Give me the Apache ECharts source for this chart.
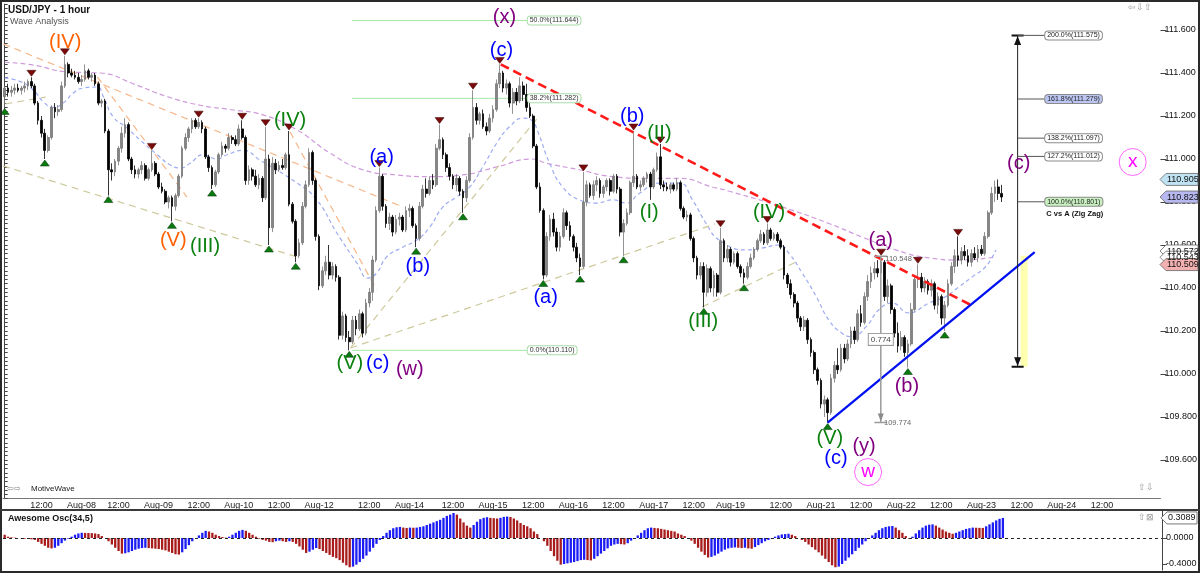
<!DOCTYPE html>
<html>
<head>
<meta charset="utf-8">
<title>USD/JPY - 1 hour</title>
<script src="https://cdn.jsdelivr.net/npm/echarts@6.0.0/dist/echarts.min.js"></script>
<style>
html,body{margin:0;padding:0;background:#ffffff;}
#chart{width:1200px;height:573px;}
</style>
</head>
<body>
<div id="chart"></div>
<script>
// ================= DATA =================
const slotCount = 346; // hourly slots on the time axis (incl. future space)
const xTicks = [[11,'12:00'],[23,'Aug-08'],[34,'12:00'],[46,'Aug-09'],[58,'12:00'],[70,'Aug-10'],[82,'12:00'],[94,'Aug-12'],
  [109,'12:00'],[121,'Aug-14'],[134,'12:00'],[146,'Aug-15'],[158,'12:00'],[170,'Aug-16'],[182,'12:00'],[194,'Aug-17'],[206,'12:00'],
  [217,'Aug-19'],[232,'12:00'],[244,'Aug-21'],[256,'12:00'],[268,'Aug-22'],[280,'12:00'],[292,'Aug-23'],[304,'12:00'],[316,'Aug-24'],[328,'12:00'],[339,'']];

// [open, high, low, close] per hour
const candles = [
[111.29,111.34,111.24,111.33],[111.33,111.35,111.29,111.31],[111.31,111.34,111.29,111.32],[111.32,111.35,111.30,111.33],[111.33,111.35,111.31,111.32],
[111.32,111.34,111.30,111.33],[111.33,111.36,111.31,111.34],[111.34,111.37,111.32,111.36],[111.36,111.38,111.33,111.34],[111.34,111.35,111.25,111.26],
[111.26,111.27,111.16,111.18],[111.18,111.20,111.10,111.12],[111.12,111.14,111.00,111.04],[111.04,111.11,111.03,111.10],[111.10,111.25,111.09,111.24],
[111.24,111.26,111.19,111.22],[111.22,111.25,111.20,111.23],[111.23,111.36,111.22,111.34],[111.34,111.48,111.33,111.44],[111.44,111.45,111.38,111.40],
[111.40,111.42,111.38,111.39],[111.39,111.41,111.37,111.38],[111.38,111.40,111.35,111.36],[111.36,111.39,111.34,111.37],[111.37,111.44,111.36,111.41],
[111.41,111.42,111.37,111.38],[111.38,111.40,111.36,111.39],[111.39,111.40,111.34,111.35],[111.35,111.36,111.25,111.26],[111.26,111.28,111.24,111.27],
[111.27,111.28,111.12,111.13],[111.13,111.14,110.83,110.95],[110.95,110.98,110.90,110.94],[110.94,111.00,110.92,110.99],[110.99,111.06,110.97,111.05],
[111.05,111.15,111.03,111.12],[111.12,111.19,111.10,111.16],[111.16,111.17,110.99,111.00],[111.00,111.01,110.93,110.95],[110.95,110.97,110.91,110.93],
[110.93,110.96,110.91,110.95],[110.95,110.99,110.93,110.97],[110.97,110.98,110.90,110.91],[110.91,110.96,110.90,110.95],[110.95,111.04,110.94,110.98],
[110.98,110.99,110.92,110.93],[110.93,110.94,110.86,110.87],[110.87,110.89,110.84,110.85],[110.85,110.86,110.79,110.80],[110.80,110.83,110.77,110.82],
[110.82,110.83,110.71,110.78],[110.78,110.84,110.76,110.83],[110.83,110.93,110.82,110.92],[110.92,111.06,110.91,111.05],[111.05,111.12,111.04,111.10],
[111.10,111.15,111.08,111.14],[111.14,111.19,111.12,111.18],[111.18,111.19,111.14,111.15],[111.15,111.19,111.14,111.17],[111.17,111.18,111.12,111.14],
[111.14,111.15,111.00,111.01],[111.01,111.02,110.94,110.96],[110.96,110.97,110.86,110.88],[110.88,110.95,110.87,110.94],[110.94,111.03,110.93,111.02],
[111.02,111.08,111.01,111.06],[111.06,111.07,111.03,111.05],[111.05,111.12,111.04,111.10],[111.10,111.11,111.07,111.09],[111.09,111.11,111.06,111.07],
[111.07,111.16,111.06,111.14],[111.14,111.18,111.09,111.10],[111.10,111.11,110.88,110.90],[110.90,110.97,110.88,110.95],[110.95,110.96,110.90,110.92],
[110.92,110.95,110.87,110.88],[110.88,110.93,110.86,110.91],[110.91,110.92,110.80,110.82],[110.82,111.15,110.81,111.00],[111.00,111.02,110.60,110.68],
[110.68,111.01,110.66,110.98],[110.98,111.00,110.93,110.95],[110.95,110.99,110.94,110.97],[110.97,111.00,110.95,110.96],[110.96,111.03,110.95,111.02],
[111.02,111.13,110.78,110.79],[110.79,110.80,110.70,110.71],[110.71,110.72,110.52,110.55],[110.55,110.63,110.54,110.61],[110.61,110.80,110.60,110.78],
[110.78,110.90,110.77,110.88],[110.88,111.05,110.87,111.03],[111.03,111.04,110.88,110.90],[110.90,110.91,110.62,110.64],[110.64,110.65,110.39,110.41],
[110.41,110.50,110.40,110.48],[110.48,110.55,110.46,110.52],[110.52,110.60,110.44,110.46],[110.46,110.52,110.44,110.50],[110.50,110.51,110.43,110.45],
[110.45,110.46,110.16,110.18],[110.18,110.29,110.16,110.27],[110.27,110.28,110.15,110.17],[110.17,110.20,110.11,110.15],[110.15,110.27,110.14,110.25],
[110.25,110.27,110.18,110.21],[110.21,110.30,110.20,110.28],[110.28,110.29,110.17,110.19],[110.19,110.35,110.18,110.33],[110.33,110.40,110.31,110.38],
[110.38,110.55,110.34,110.53],[110.53,110.78,110.52,110.76],[110.76,110.96,110.75,110.92],[110.92,110.93,110.76,110.78],[110.78,110.79,110.68,110.70],
[110.70,110.75,110.67,110.73],[110.73,110.74,110.64,110.66],[110.66,110.74,110.65,110.72],[110.72,110.75,110.69,110.73],[110.73,110.74,110.66,110.67],
[110.67,110.78,110.66,110.76],[110.76,110.79,110.73,110.77],[110.77,110.78,110.68,110.69],[110.69,110.70,110.59,110.63],[110.63,110.80,110.62,110.78],
[110.78,110.88,110.77,110.86],[110.86,110.91,110.82,110.84],[110.84,110.92,110.83,110.90],[110.90,110.93,110.86,110.88],[110.88,111.07,110.87,111.05],
[111.05,111.16,111.04,111.09],[111.09,111.10,111.00,111.02],[111.02,111.03,110.94,110.96],[110.96,110.98,110.90,110.92],[110.92,110.93,110.86,110.88],
[110.88,110.93,110.85,110.91],[110.91,110.92,110.83,110.85],[110.85,110.86,110.75,110.82],[110.82,110.92,110.80,110.90],[110.90,111.12,110.89,111.10],
[111.10,111.32,111.09,111.24],[111.24,111.26,111.16,111.18],[111.18,111.22,111.16,111.21],[111.21,111.23,111.14,111.15],[111.15,111.17,111.11,111.13],
[111.13,111.21,111.12,111.19],[111.19,111.25,111.17,111.23],[111.23,111.37,111.22,111.35],[111.35,111.44,111.33,111.40],[111.40,111.41,111.31,111.33],
[111.33,111.37,111.30,111.35],[111.35,111.36,111.24,111.26],[111.26,111.33,111.21,111.31],[111.31,111.33,111.25,111.27],[111.27,111.38,111.26,111.34],
[111.34,111.36,111.27,111.30],[111.30,111.35,111.22,111.24],[111.24,111.26,111.19,111.20],[111.20,111.21,111.05,111.06],[111.06,111.07,110.86,110.87],
[110.87,110.89,110.75,110.76],[110.76,110.77,110.44,110.46],[110.46,110.66,110.45,110.64],[110.64,110.74,110.62,110.72],[110.72,110.75,110.64,110.66],
[110.66,110.68,110.57,110.59],[110.59,110.66,110.57,110.64],[110.64,110.77,110.63,110.75],[110.75,110.76,110.67,110.69],[110.69,110.71,110.62,110.64],
[110.64,110.65,110.57,110.59],[110.59,110.61,110.52,110.54],[110.54,110.56,110.46,110.50],[110.50,110.94,110.49,110.80],[110.80,110.90,110.78,110.88],
[110.88,110.89,110.82,110.83],[110.83,110.90,110.81,110.88],[110.88,110.92,110.85,110.90],[110.90,110.91,110.82,110.84],[110.84,110.88,110.82,110.87],
[110.87,110.91,110.85,110.90],[110.90,110.91,110.83,110.85],[110.85,110.93,110.84,110.92],[110.92,110.93,110.84,110.86],[110.86,110.87,110.64,110.66],
[110.66,110.72,110.55,110.70],[110.70,110.77,110.69,110.75],[110.75,110.90,110.74,110.89],[110.89,111.13,110.87,110.92],[110.92,110.93,110.86,110.87],
[110.87,110.90,110.85,110.88],[110.88,110.92,110.87,110.91],[110.91,110.94,110.89,110.93],[110.93,110.94,110.81,110.87],[110.87,110.96,110.86,110.95],
[110.95,111.03,110.94,111.01],[111.01,111.07,110.86,110.88],[110.88,110.90,110.85,110.87],[110.87,110.89,110.85,110.86],[110.86,110.89,110.84,110.88],
[110.88,110.89,110.85,110.86],[110.86,110.91,110.85,110.89],[110.89,110.90,110.76,110.77],[110.77,110.78,110.72,110.73],[110.73,110.76,110.71,110.74],
[110.74,110.75,110.62,110.63],[110.63,110.64,110.52,110.54],[110.54,110.55,110.44,110.46],[110.46,110.52,110.44,110.50],[110.50,110.52,110.31,110.38],
[110.38,110.51,110.36,110.49],[110.49,110.50,110.38,110.40],[110.40,110.48,110.36,110.46],[110.46,110.47,110.36,110.38],[110.38,110.68,110.37,110.62],
[110.62,110.63,110.52,110.54],[110.54,110.60,110.52,110.58],[110.58,110.59,110.50,110.52],[110.52,110.57,110.51,110.56],[110.56,110.57,110.49,110.50],
[110.50,110.51,110.45,110.47],[110.47,110.49,110.42,110.45],[110.45,110.52,110.44,110.50],[110.50,110.56,110.49,110.54],[110.54,110.59,110.53,110.58],
[110.58,110.63,110.57,110.62],[110.62,110.67,110.61,110.65],[110.65,110.66,110.60,110.61],[110.61,110.70,110.60,110.67],[110.67,110.68,110.62,110.63],
[110.63,110.66,110.62,110.65],[110.65,110.66,110.61,110.62],[110.62,110.63,110.58,110.59],[110.59,110.60,110.44,110.46],[110.46,110.47,110.40,110.42],
[110.42,110.44,110.35,110.37],[110.37,110.38,110.31,110.33],[110.33,110.34,110.24,110.26],[110.26,110.27,110.20,110.22],[110.22,110.27,110.20,110.25],
[110.25,110.26,110.14,110.16],[110.16,110.17,110.08,110.10],[110.10,110.11,110.00,110.02],[110.02,110.03,109.95,109.97],[109.97,109.98,109.84,109.86],
[109.86,109.90,109.80,109.88],[109.88,109.89,109.774,109.82],[109.82,110.00,109.81,109.98],[109.98,110.06,109.96,110.04],[110.04,110.12,110.00,110.02],
[110.02,110.14,110.01,110.12],[110.12,110.14,110.05,110.07],[110.07,110.16,110.06,110.14],[110.14,110.22,110.12,110.20],[110.20,110.22,110.14,110.16],
[110.16,110.30,110.15,110.28],[110.28,110.32,110.22,110.24],[110.24,110.38,110.23,110.36],[110.36,110.46,110.34,110.43],[110.43,110.50,110.40,110.47],
[110.47,110.52,110.44,110.49],[110.49,110.53,110.45,110.47],[110.47,110.548,110.46,110.52],[110.52,110.53,110.34,110.36],[110.36,110.44,110.33,110.41],
[110.41,110.42,110.28,110.30],[110.30,110.31,110.17,110.19],[110.19,110.24,110.10,110.13],[110.13,110.20,110.11,110.17],[110.17,110.18,110.08,110.10],
[110.10,110.16,110.03,110.14],[110.14,110.33,110.13,110.30],[110.30,110.46,110.29,110.44],[110.44,110.51,110.40,110.45],[110.45,110.47,110.38,110.40],
[110.40,110.45,110.38,110.43],[110.43,110.44,110.37,110.39],[110.39,110.44,110.36,110.42],[110.42,110.43,110.30,110.32],[110.32,110.38,110.28,110.36],
[110.36,110.37,110.23,110.26],[110.26,110.34,110.20,110.32],[110.32,110.44,110.31,110.42],[110.42,110.52,110.41,110.50],[110.50,110.58,110.47,110.55],
[110.55,110.64,110.50,110.53],[110.53,110.59,110.51,110.57],[110.57,110.60,110.53,110.55],[110.55,110.58,110.50,110.52],[110.52,110.58,110.50,110.56],
[110.56,110.59,110.53,110.54],[110.54,110.60,110.52,110.58],[110.58,110.60,110.55,110.56],[110.56,110.66,110.55,110.64],[110.64,110.76,110.63,110.75],
[110.75,110.87,110.74,110.84],[110.84,110.90,110.80,110.87],[110.87,110.905,110.81,110.84],[110.84,110.88,110.80,110.823]
];

// Awesome Oscillator (34,5), one value per candle
const aoValues = [
0.05,0.02,0.01,0.005,0.0,-0.005,-0.01,-0.012,-0.02,
-0.03,-0.06,-0.09,-0.12,-0.15,-0.16,
-0.15,-0.12,-0.08,-0.04,-0.01,
0.02,0.05,0.07,0.08,
0.078,0.077,0.075,0.07,0.06,
0.03,0.0,
-0.05,-0.10,-0.15,-0.20,-0.24,
-0.235,-0.22,-0.20,-0.18,-0.165,-0.155,-0.15,
-0.155,-0.16,-0.165,-0.17,-0.18,-0.19,-0.21,-0.23,-0.25,-0.255,
-0.22,-0.17,-0.11,-0.05,
0.0,0.04,0.08,0.11,
0.10,0.08,0.05,0.03,0.015,0.005,
0.02,0.05,0.08,0.11,0.125,
0.11,0.08,0.05,0.02,-0.01,-0.03,
-0.04,-0.06,-0.065,-0.05,-0.04,-0.05,-0.06,-0.05,-0.06,
-0.09,-0.13,-0.18,-0.23,
-0.21,-0.18,-0.155,
-0.17,-0.20,-0.23,-0.26,-0.29,-0.31,-0.34,-0.38,-0.42,-0.45,
-0.44,-0.41,-0.37,-0.32,-0.27,-0.21,-0.15,-0.09,-0.03,
0.03,0.08,0.12,0.15,0.165,0.17,
0.16,0.155,0.16,0.158,0.16,
0.17,0.18,0.20,0.22,0.24,0.26,0.28,0.31,0.34,0.36,0.385,
0.36,0.30,0.24,0.19,0.16,
0.20,0.25,0.29,0.31,0.32,
0.31,0.305,0.30,0.31,0.325,0.33,0.323,
0.30,0.27,0.23,0.20,0.18,0.15,0.10,0.06,0.0,
-0.05,-0.12,-0.20,-0.28,-0.35,-0.41,
-0.40,-0.39,-0.38,-0.37,-0.355,-0.34,-0.335,
-0.34,-0.345,
-0.32,-0.28,-0.24,-0.20,-0.16,-0.12,
-0.10,-0.09,-0.095,-0.10,-0.08,
-0.04,0.0,0.04,0.08,0.12,0.15,0.16,
0.155,0.15,0.14,0.13,0.12,0.11,0.10,
0.07,0.05,0.03,0.0,
-0.04,-0.09,-0.15,-0.21,-0.26,-0.30,
-0.29,-0.27,-0.24,-0.21,-0.18,-0.16,-0.15,-0.145,
-0.15,-0.155,-0.15,-0.16,-0.165,
-0.14,-0.11,-0.08,-0.05,-0.03,-0.01,
0.02,0.04,0.055,0.06,0.065,
0.05,0.03,0.0,
-0.03,-0.06,-0.10,-0.14,-0.18,-0.22,-0.27,-0.32,-0.37,-0.42,-0.45,
-0.44,-0.40,-0.35,-0.30,-0.25,-0.20,-0.15,-0.10,-0.05,0.0,
0.04,0.08,0.12,0.15,0.17,0.18,0.185,
0.16,0.12,0.08,0.03,-0.01,
0.02,0.07,0.12,0.16,0.19,0.205,0.21,
0.19,0.16,0.13,0.10,0.08,0.065,
0.08,0.10,0.12,0.14,0.15,0.16,
0.158,0.156,0.155,
0.18,0.21,0.24,0.27,0.295,0.3089
];

// moving averages read at sample points: [bar, price]
const maFast = [[0,111.377],[4.7,111.36],[8.6,111.32],[11.6,111.265],[14.6,111.24],[17.5,111.26],[20.5,111.307],[23.5,111.33],[27.7,111.335],[29.5,111.29],
[32.5,111.195],[36.6,111.144],[40.5,111.088],[45.6,111.02],[49.5,110.972],[52.5,110.958],[55.4,110.98],[59.3,111.02],[63.5,111.0],[66.5,111.02],[71.3,111.04],
[76.3,110.995],[87.4,110.888],[93.3,110.81],[99.3,110.656],[105.3,110.516],[108.6,110.446],[111.2,110.47],[114.2,110.545],[119,110.59],[123.2,110.623],
[127.1,110.684],[131,110.777],[135.1,110.823],[139,110.87],[142.9,110.963],[147.1,111.074],[150.9,111.15],[155,111.19],[157.5,111.18],[159.3,111.13],
[162.9,110.98],[166.8,110.87],[171.8,110.81],[176.9,110.795],[181.7,110.81],[185.9,110.795],[189.7,110.84],[195.7,110.888],[201.7,110.888],[205.6,110.81],
[209.7,110.70],[213.6,110.623],[221.7,110.577],[226.4,110.586],[231.5,110.60],[234.5,110.56],[238.4,110.47],[242.6,110.36],[246.4,110.25],[250.3,110.19],
[253.3,110.173],[257.5,110.22],[261.4,110.30],[265.2,110.33],[270.3,110.284],[276.3,110.33],[281.3,110.36],[285.2,110.405],[289.1,110.45],[293.3,110.50],[296.3,110.577]];
const maSlow = [[0,111.45],[8.6,111.437],[18.7,111.405],[28.6,111.40],[38.4,111.35],[48.6,111.29],[58.4,111.25],[68.3,111.228],[77.2,111.205],[87.4,111.135],
[97.2,111.028],[107.1,110.95],[117.2,110.926],[127.1,110.918],[136.9,110.926],[147.1,110.963],[157.8,111.0],[162,110.98],[171.8,110.95],[181.7,110.918],
[191.8,110.91],[201.7,110.91],[211.5,110.87],[216.6,110.85],[232.4,110.777],[246.4,110.70],[256.3,110.637],[266.4,110.577],[276.3,110.54],[286.1,110.53],[296.3,110.545]];

// swing markers (bar indices)
const highMarks = [8,18,44,58,71,78,85,112,130,140,148,173,188,196,214,228,262,273,285];
const lowMarks = [0,12,31,50,62,79,87,103,123,137,161,172,185,209,221,246,270,281];

// wave labels: [bar, price, text, degree]
const waveLabels = [
 [18.1,111.544,'(IV)','intermediate'],[50.4,110.623,'(V)','intermediate'],[59.9,110.591,'(III)','minor'],
 [85.3,111.181,'(IV)','minor'],[112.7,111.009,'(a)','minute'],[123.5,110.502,'(b)','minute'],
 [103.2,110.051,'(V)','minor'],[111.5,110.051,'(c)','minute'],[121.1,110.019,'(w)','minuette'],
 [149.4,111.656,'(x)','minuette'],[148.5,111.507,'(c)','minute'],[187.6,111.200,'(b)','minute'],
 [195.7,111.121,'(II)','minor'],[192.7,110.749,'(I)','minor'],[161.7,110.358,'(a)','minute'],
 [208.8,110.242,'(III)','minor'],[228.5,110.753,'(IV)','minor'],[261.9,110.619,'(a)','minuette'],
 [269.7,109.944,'(b)','minuette'],[246.7,109.702,'(V)','minor'],[248.5,109.609,'(c)','minute'],
 [256.9,109.665,'(y)','minuette'],[303.1,110.977,'(c)','minuette']
];
const circledLabels = [[258.1,109.544,'w'],[337.2,110.986,'x']];

// trend lines: [[bar, price],[bar, price]]
const orangeLines = [[[-0.4,111.535],[119,110.777]],[[27.7,111.381],[54.5,110.823]],[[85.3,111.126],[111.2,110.391]]];
const khakiLines = [[[0.24,111.256],[12.2,111.288]],[[-0.5,110.968],[88.3,110.54]],[[103.4,110.121],[159.3,111.191]],
  [[103.4,110.121],[212.4,110.698]],[[208.5,110.312],[236.6,110.521]]];
const redLine = [[148.3,111.44],[288.8,110.321]];
const blueLine = [[246,109.774],[307.9,110.567]];

// Fibonacci retracement (left) and extension (right)
const fibRetrace = [[50.0,111.644],[38.2,111.282],[0.0,110.110]];
const fibRetraceSpan = [103.8,156.2];
const fibExtension = [[200.0,111.575],[161.8,111.279],[138.2,111.097],[127.2,111.012],[100.0,110.801]];
const extensionBar = 302.8, extensionEnd = 310.9;
const extensionRange = [110.034,111.575];
const yellowZone = [303.7,110.55,305.8,110.034];
const measure = {bar:261.9, top:110.548, bottom:109.774};

const priceTags = [110.572,110.543,110.509,110.823,110.905];
const oscTag = 0.3089;
const yLabelValues = [109.6,109.8,110.0,110.2,110.4,110.6,110.8,111.0,111.2,111.4,111.6];
const oscLabelValues = [0,-0.4];

// ================= CHART =================
const FONT = '"Liberation Sans", Arial, sans-serif';
const waveColors = {intermediate:'#ff6000', minor:'#0a800f', minute:'#0000ff', minuette:'#800080'};
const tagFill = {110.905:'#bfe3f2',110.823:'#b8b8f0',110.572:'#ffffff',110.543:'#ffffff',110.509:'#f2b0b0'};
const extFill = {200:'#ffffff',161.8:'#bcc6f2',138.2:'#ffffff',127.2:'#ffffff',100:'#c8f0c0'};

const xCats = Array.from({length:slotCount},(_,i)=>String(i));
const tickMap = new Map(xTicks);

const chart = echarts.init(document.getElementById('chart'), null, {renderer:'canvas', width:1200, height:573});

function seg(points, lineStyle, z){
  return {type:'line', xAxisIndex:1, yAxisIndex:0, data:points, symbol:'none', silent:true, z:z||3, lineStyle:lineStyle, animation:false};
}
function labelPoint(value, label){
  return {value:value, symbolSize:1, itemStyle:{color:'rgba(0,0,0,0)', opacity:1}, label:Object.assign({opacity:1}, label)};
}

const series = [];
series.push(Object.assign(seg(maSlow,{color:'#cf9bdc',width:1.2,type:[5,3]},2),{smooth:true}));
series.push(Object.assign(seg(maFast,{color:'#9dabf2',width:1.2,type:[4,3]},2),{smooth:true}));
orangeLines.forEach(l=>series.push(seg(l,{color:'#f7b689',width:1.2,type:[7,5]},2)));
khakiLines.forEach(l=>series.push(seg(l,{color:'#cdc99b',width:1.2,type:[7,5]},2)));
series.push(seg(redLine,{color:'#ff1a1a',width:2.6,type:[9,5]},6));
series.push(seg(blueLine,{color:'#0010f0',width:2.3},6));

// fib retracement lines
fibRetrace.forEach(f=>series.push(seg([[fibRetraceSpan[0],f[1]],[fibRetraceSpan[1],f[1]]],{color:'#a6e8a6',width:1},2)));
series.push({type:'scatter', xAxisIndex:1, yAxisIndex:0, z:7, silent:true, itemStyle:{opacity:1},
  data: fibRetrace.map(f=>labelPoint([fibRetraceSpan[1],f[1]],{show:true, position:'right', distance:0,
    formatter: f[0].toFixed(1)+'%('+f[1].toFixed(3)+')', fontSize:7, fontFamily:FONT, color:'#333',
    backgroundColor:'#ffffff', borderColor:'#a8dca8', borderWidth:1, borderRadius:3, padding:[1,2,0,2]}))});

// extension tool
series.push(seg([[extensionBar,extensionRange[0]],[extensionBar,extensionRange[1]]],{color:'#222',width:1},7));
series.push(seg([[extensionBar-1.8,extensionRange[1]],[extensionBar+1.8,extensionRange[1]]],{color:'#111',width:2},7));
series.push(seg([[extensionBar-1.8,extensionRange[0]],[extensionBar+1.8,extensionRange[0]]],{color:'#111',width:2},7));
fibExtension.forEach(f=>series.push(seg([[extensionBar,f[1]],[extensionEnd,f[1]]],{color:'#555',width:1},7)));
series.push({type:'scatter', xAxisIndex:1, yAxisIndex:0, z:8, silent:true, itemStyle:{opacity:1},
  data: fibExtension.map(f=>labelPoint([extensionEnd,f[1]],{show:true, position:'right', distance:0,
    formatter: f[0].toFixed(1)+'%('+f[1].toFixed(3)+')', fontSize:7, fontFamily:FONT, color:'#222',
    backgroundColor: extFill[f[0]], borderColor:'#8a8a8a', borderWidth:1, borderRadius:3, padding:[1,2,0,2]}))
    .concat([labelPoint([extensionEnd,fibExtension[4][1]],{show:true, position:'right', distance:0, offset:[1,12],
      formatter:'C vs A (Zig Zag)', fontSize:7.5, fontWeight:'bold', fontFamily:FONT, color:'#111'})])});
series.push({type:'scatter', xAxisIndex:1, yAxisIndex:0, z:8, silent:true, symbol:'triangle',
  data:[{value:[extensionBar,extensionRange[1]], symbolOffset:[0,5], symbolSize:[7,9]},
        {value:[extensionBar,extensionRange[0]], symbolOffset:[0,-5], symbolSize:[7,9], symbolRotate:180}],
  itemStyle:{color:'#111', opacity:1}});
series.push({type:'custom', xAxisIndex:1, yAxisIndex:0, z:1, silent:true, data:[yellowZone],
  renderItem:(params,api)=>{
    const p1 = api.coord([api.value(0),api.value(1)]);
    const p2 = api.coord([api.value(2),api.value(3)]);
    return {type:'rect', shape:{x:p1[0],y:p1[1],width:p2[0]-p1[0],height:p2[1]-p1[1]}, style:{fill:'#ffffb0'}};
  }});

// measurement tool
series.push(seg([[measure.bar,measure.top],[measure.bar,measure.bottom]],{color:'#9a9a9a',width:1.5},7));
series.push(seg([[measure.bar-1.9,measure.top],[measure.bar+1.9,measure.top]],{color:'#9a9a9a',width:1.5},7));
series.push(seg([[measure.bar-1.9,measure.bottom],[measure.bar+1.9,measure.bottom]],{color:'#9a9a9a',width:1.5},7));
series.push({type:'scatter', xAxisIndex:1, yAxisIndex:0, z:8, silent:true, symbol:'triangle',
  data:[{value:[measure.bar,measure.bottom], symbolOffset:[0,-5], symbolSize:[6,8], symbolRotate:180}], itemStyle:{color:'#8a8a8a', opacity:1}});
series.push({type:'scatter', xAxisIndex:1, yAxisIndex:0, z:9, silent:true, itemStyle:{opacity:1},
  data:[labelPoint([measure.bar,(measure.top+measure.bottom)/2],{show:true, position:'inside', formatter:(measure.top-measure.bottom).toFixed(3),
          fontSize:8, fontFamily:FONT, color:'#444', backgroundColor:'#fff', borderColor:'#999', borderWidth:1, padding:[2,2,1,2]}),
        labelPoint([measure.bar+1.2,measure.top],{show:true, position:'right', distance:0, offset:[0,3], formatter:measure.top.toFixed(3),
          fontSize:7.5, fontFamily:FONT, color:'#666'}),
        labelPoint([measure.bar+0.8,measure.bottom],{show:true, position:'right', distance:0, formatter:measure.bottom.toFixed(3),
          fontSize:7.5, fontFamily:FONT, color:'#666'})]});

// candles
series.push({type:'candlestick', xAxisIndex:0, yAxisIndex:0, z:4, silent:true, barWidth:2.2,
  data: candles.map(c=>[c[0],c[3],c[2],c[1]]),
  itemStyle:{color:'#858585', color0:'#000000', borderColor:'#777777', borderColor0:'#000000', borderWidth:0.8}});

// swing markers
series.push({type:'scatter', xAxisIndex:1, yAxisIndex:0, z:9, silent:true, symbol:'triangle', symbolRotate:180,
  symbolSize:[9,6], symbolOffset:[0,-4], data: highMarks.map(i=>[i,candles[i][1]]),
  itemStyle:{color:'#7a0a0a', borderColor:'#3a0000', borderWidth:0.5, opacity:1}});
series.push({type:'scatter', xAxisIndex:1, yAxisIndex:0, z:9, silent:true, symbol:'triangle',
  symbolSize:[9,6], symbolOffset:[0,4], data: lowMarks.map(i=>[i,candles[i][2]]),
  itemStyle:{color:'#0a7a10', borderColor:'#003300', borderWidth:0.5, opacity:1}});

// wave labels
series.push({type:'scatter', xAxisIndex:1, yAxisIndex:0, z:10, silent:true, itemStyle:{opacity:1},
  data: waveLabels.map(w=>labelPoint([w[0],w[1]],{show:true, position:'inside', formatter:w[2], fontSize:20, fontFamily:FONT, color:waveColors[w[3]]}))
    .concat(circledLabels.map(c=>labelPoint([c[0],c[1]],{show:true, position:'inside', formatter:c[2], fontSize:19, fontFamily:FONT, color:'#ff00ff',
      borderColor:'#ff66ff', borderWidth:1, borderRadius:14, width:27, height:27, lineHeight:25, align:'center', padding:0})))});

// oscillator
series.push({type:'bar', xAxisIndex:2, yAxisIndex:2, barWidth:2.3, silent:true,
  data: aoValues.map((v,i)=>({value:v, itemStyle:{color:(i===0 || v<aoValues[i-1]) ? '#a81c1c' : '#1c1cf5'}})),
  markLine:{silent:true, symbol:'none', label:{show:false}, lineStyle:{color:'#222', type:[3,3], width:1}, data:[{yAxis:0}]}});

const option = {
  animation:false,
  backgroundColor:'#ffffff',
  grid:[{left:3,right:38,top:4.2,height:494.5},{left:3,right:38,top:511,bottom:3}],
  xAxis:[
    {type:'category', gridIndex:0, data:xCats, boundaryGap:true,
     axisLine:{lineStyle:{color:'#777'}},
     axisTick:{interval:(i)=>tickMap.has(i), alignWithLabel:true, length:4, lineStyle:{color:'#555'}},
     axisLabel:{interval:(i)=>tickMap.has(i), formatter:(v,i)=>tickMap.get(i)||'', fontSize:9, color:'#222', margin:2, fontFamily:FONT},
     splitLine:{show:false}},
    {type:'value', gridIndex:0, min:-0.5, max:slotCount-0.5, show:false},
    {type:'category', gridIndex:1, data:xCats, boundaryGap:true, show:false}
  ],
  yAxis:[
    {type:'value', gridIndex:0, position:'right', min:109.42, max:111.72, interval:0.02,
     axisLine:{show:true, lineStyle:{color:'#444'}}, axisTick:{show:true, length:3, lineStyle:{color:'#444'}},
     axisLabel:{formatter:(v)=>{const k=v*5; return Math.abs(k-Math.round(k))<1e-6 ? v.toFixed(3) : '';}, fontSize:9, color:'#111', margin:4, fontFamily:FONT},
     splitLine:{show:false}},
    {type:'value', gridIndex:0, position:'right', min:109.42, max:111.72,
     axisLine:{show:false}, axisLabel:{show:false}, axisTick:{show:true, length:6, customValues:yLabelValues, lineStyle:{color:'#444'}}, splitLine:{show:false}},
    {type:'value', gridIndex:1, position:'right', min:-0.4923, max:0.4154,
     axisLine:{show:true, lineStyle:{color:'#444'}}, axisTick:{show:true, length:5, customValues:oscLabelValues, lineStyle:{color:'#444'}},
     axisLabel:{customValues:oscLabelValues, formatter:(v)=>v.toFixed(4), fontSize:9, color:'#111', margin:4, fontFamily:FONT},
     splitLine:{show:false}}
  ],
  series:series
};
chart.setOption(option);

// static graphics and price tags (positioned through the axes)
function txt(x,y,text,size,extra){
  return {type:'text', x:x, y:y, z:120, style:Object.assign({text:text, fontSize:size, fontFamily:FONT, fill:'#111', verticalAlign:'middle'}, extra||{})};
}
const g = [
  {type:'rect', z:110, shape:{x:1,y:1,width:1198,height:571}, style:{fill:'none', stroke:'#2a2a2a', lineWidth:2}},
  {type:'line', z:110, shape:{x1:0,y1:510,x2:1200,y2:510}, style:{stroke:'#3a3a3a', lineWidth:2}},
  txt(8,10,'USD/JPY - 1 hour',10,{fontWeight:'bold'}),
  txt(10,22,'Wave Analysis',9,{fill:'#555'}),
  txt(7,489,'\u21E6\u21E8',8,{fill:'#888'}),
  txt(31,489,'MotiveWave',8,{fill:'#222'}),
  txt(8,519,'Awesome Osc(34,5)',9,{fontWeight:'bold'}),
  txt(1128,8,'\u21E6\u21E9\u21E7',9,{fill:'#999'}),
  txt(1138,488,'\u21E7\u21E9',9,{fill:'#999'}),
  txt(1138,518,'\u21E7\u22A0',9,{fill:'#999'})
];
priceTags.forEach(p=>{
  const y = chart.convertToPixel({yAxisIndex:0}, p);
  g.push({type:'polygon', z:115, shape:{points:[[1160,y],[1166,y-6],[1198,y-6],[1198,y+6],[1166,y+6]]},
    style:{fill:tagFill[p], stroke:'#666', lineWidth:0.8}});
  g.push(Object.assign(txt(1167,y,p.toFixed(3),9),{z:116}));
});
{
  const y = chart.convertToPixel({yAxisIndex:2}, oscTag);
  g.push({type:'polygon', z:115, shape:{points:[[1161,y],[1167,y-6],[1197,y-6],[1197,y+6],[1167,y+6]]},
    style:{fill:'#ffffff', stroke:'#555', lineWidth:0.8}});
  g.push(Object.assign(txt(1168,y,oscTag.toFixed(4),9),{z:116}));
}
chart.setOption({graphic:g});
</script>
</body>
</html>
